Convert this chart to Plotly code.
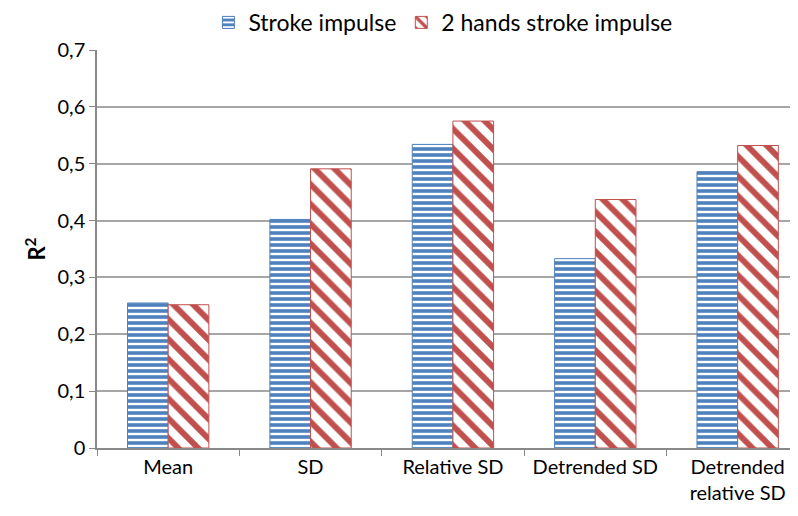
import plotly.graph_objects as go

categories = ["Mean", "SD", "Relative SD", "Detrended SD", "Detrended<br>relative SD"]
stroke_impulse = [0.255, 0.402, 0.534, 0.333, 0.486]
two_hands_stroke_impulse = [0.252, 0.491, 0.575, 0.437, 0.532]
y_ticks = [0, 0.1, 0.2, 0.3, 0.4, 0.5, 0.6, 0.7]
y_tick_labels = ["0", "0,1", "0,2", "0,3", "0,4", "0,5", "0,6", "0,7"]

BLUE = "#4F81BD"
RED = "#C0504D"
FONT = "Lato, 'Open Sans', sans-serif"

fig = go.Figure()
fig.add_trace(go.Bar(
    x=categories, y=stroke_impulse, name="Stroke impulse",
    marker=dict(color="white", line=dict(color=BLUE, width=1),
                pattern=dict(shape="-", fgcolor=BLUE, bgcolor="white", fgopacity=1,
                             size=6, solidity=0.6)),
))
fig.add_trace(go.Bar(
    x=categories, y=two_hands_stroke_impulse, name="2 hands stroke impulse",
    marker=dict(color="white", line=dict(color=RED, width=1),
                pattern=dict(shape="\\", fgcolor=RED, bgcolor="white", fgopacity=1,
                             size=14, solidity=0.42)),
))

fig.update_layout(
    width=798, height=516,
    margin=dict(l=89, r=0, t=42, b=76, autoexpand=False),
    paper_bgcolor="white", plot_bgcolor="white",
    barmode="group", bargap=0.4286, bargroupgap=0,
    font=dict(family=FONT, size=20, color="#000000"),
    showlegend=True,
    legend=dict(orientation="h", xref="container", x=0.545, xanchor="center",
                yref="container", y=0.972, yanchor="middle",
                itemwidth=30,
                font=dict(size=23), traceorder="normal"),
    xaxis=dict(
        range=[-0.5, 4.48], showline=True, linecolor="#888888", linewidth=1.5,
        ticks="outside", tickson="boundaries", ticklen=6, tickcolor="#888888",
        tickfont=dict(size=20), showgrid=False, automargin=False,
    ),
    yaxis=dict(
        range=[0, 0.7], tickvals=y_ticks, ticktext=y_tick_labels,
        showline=True, linecolor="#888888", linewidth=1.5,
        ticks="outside", ticklen=6, tickcolor="#888888",
        showgrid=True, gridcolor="#A6A6A6", gridwidth=1.5,
        tickfont=dict(size=20), automargin=False,
        title=dict(text="<b>R<sup>2</sup></b>", font=dict(size=22), standoff=6),
        zeroline=False,
    ),
)

fig.write_html("out.html")
